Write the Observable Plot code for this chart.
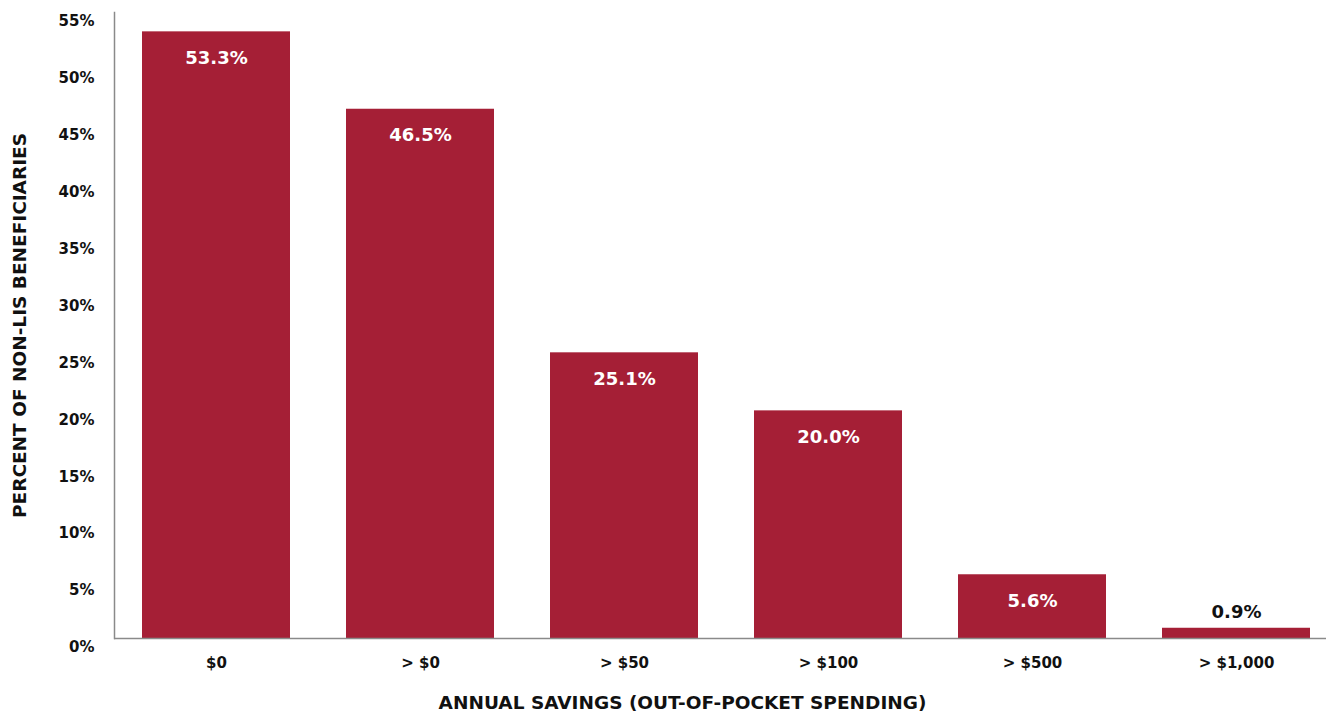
<!DOCTYPE html>
<html>
<head>
<meta charset="utf-8">
<script src="https://cdn.jsdelivr.net/npm/d3@7"></script>
<script src="https://cdn.jsdelivr.net/npm/@observablehq/plot@0.6"></script>
<style>
  html, body { margin: 0; padding: 0; background: #fff; }
  #chart { width: 1326px; height: 711px; }
</style>
</head>
<body>
<div id="chart"></div>
<script>
const categories = ["$0", "> $0", "> $50", "> $100", "> $500", "> $1,000"];
const values = [53.3, 46.5, 25.1, 20.0, 5.6, 0.9];
const yTicks = [0, 5, 10, 15, 20, 25, 30, 35, 40, 45, 50, 55];
const xTitle = "ANNUAL SAVINGS (OUT-OF-POCKET SPENDING)";
const yTitle = "PERCENT OF NON-LIS BENEFICIARIES";

const data = categories.map((c, i) => ({cat: c, value: values[i]}));
const FONT = "'DejaVu Sans', sans-serif";
const RED = "#a51f36";
const INK = "#111";

const chart = Plot.plot({
  width: 1326,
  height: 711,
  marginLeft: 114,
  marginRight: 0,
  marginTop: 12,
  marginBottom: 73,
  style: {fontFamily: FONT, fontWeight: "bold", color: INK, background: "#fff"},
  x: {domain: categories, range: [141, 1311], paddingInner: 0.2745, paddingOuter: 0},
  y: {domain: [0, 55], ticks: yTicks},
  marks: [
    Plot.barY(data, {x: "cat", y: "value", fill: RED}),
    Plot.frame({anchor: "left", stroke: "#8a8a8a", strokeWidth: 1.5}),
    Plot.ruleY([0], {stroke: "#8a8a8a", strokeWidth: 1.5}),
    Plot.axisY({ticks: yTicks, tickSize: 0, tickPadding: 20, tickFormat: d => d + "%", label: null, fontSize: 15, fontWeight: "bold", dy: 9, fill: INK}),
    Plot.axisX({tickSize: 0, tickPadding: 19, label: null, fontSize: 15, fontWeight: "bold", fill: INK}),
    Plot.text(data.filter(d => d.value >= 3), {x: "cat", y: "value", text: d => d.value.toFixed(1) + "%", dy: 26, fill: "white", fontSize: 18, fontWeight: "bold"}),
    Plot.text(data.filter(d => d.value < 3), {x: "cat", y: "value", text: d => d.value.toFixed(1) + "%", dy: -16, fill: INK, fontSize: 18, fontWeight: "bold"}),
    Plot.text([yTitle], {frameAnchor: "left", textAnchor: "middle", rotate: -90, dx: -94, fontSize: 18.5, fontWeight: "bold", fill: INK}),
    Plot.text([xTitle], {frameAnchor: "bottom", dy: 70, dx: -38, fontSize: 18.5, fontWeight: "bold", fill: INK})
  ]
});
document.getElementById("chart").appendChild(chart);
</script>
</body>
</html>
